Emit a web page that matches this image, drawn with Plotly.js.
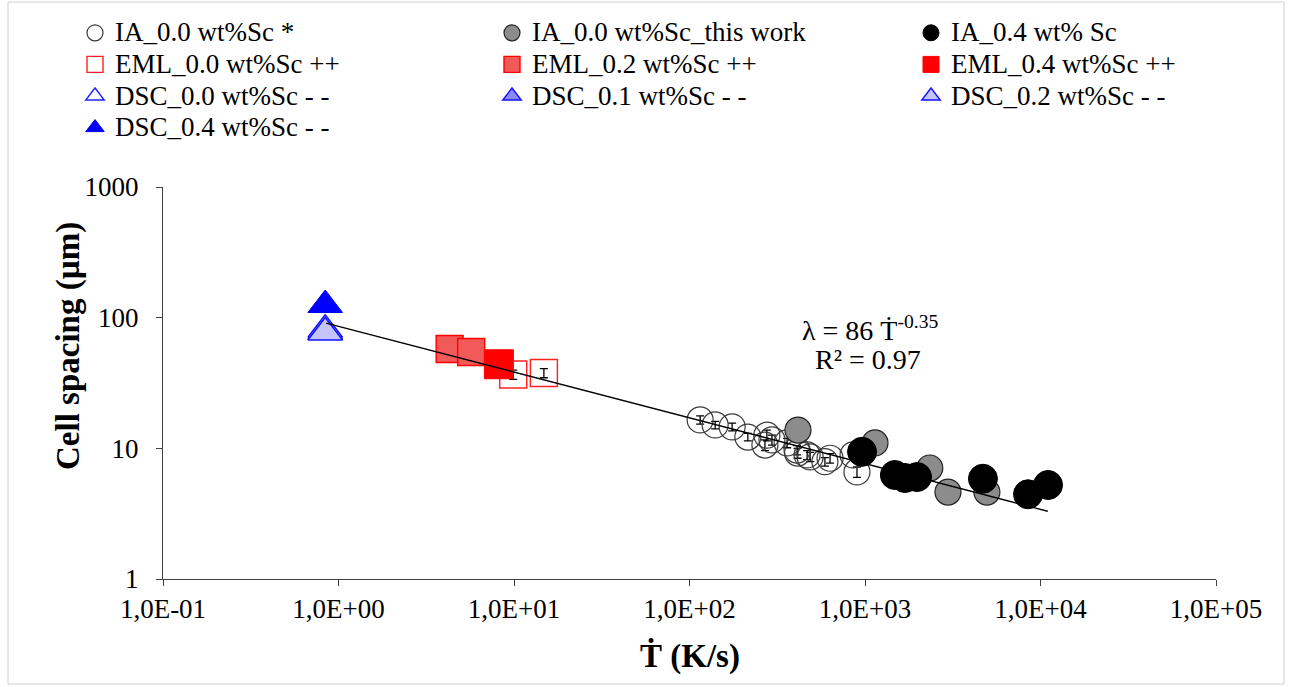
<!DOCTYPE html>
<html>
<head>
<meta charset="utf-8">
<script src="https://cdn.plot.ly/plotly-3.0.1.min.js"></script>
<style>html,body{margin:0;padding:0;background:#fff;}#chart{width:1292px;height:687px;}</style>
</head>
<body>
<div id="chart"></div>
<script>
// ---- data ----
const seriesNames = ["IA_0.0 wt%Sc *", "IA_0.0 wt%Sc_this work", "IA_0.4 wt% Sc",
  "EML_0.0 wt%Sc ++", "EML_0.2 wt%Sc ++", "EML_0.4 wt%Sc ++",
  "DSC_0.0 wt%Sc - -", "DSC_0.1 wt%Sc - -", "DSC_0.2 wt%Sc - -", "DSC_0.4 wt%Sc - -"];

const ia00X = [115, 140, 175, 215, 269, 276, 295, 360, 410, 413, 468, 487, 591, 632, 855, 900];
const ia00Y = [16.5, 15.1, 14.6, 12.2, 10.6, 12.6, 11.6, 11.0, 9.7, 9.2, 8.9, 8.6, 7.9, 8.4, 8.9, 6.6];
const ia00Err = [1.2, 1.0, 1.0, 0.8, 1.0, 1.2, 1.0, 0.9, 0.8, 0.8, 0.7, 0.7, 0.6, 0.7, 0.6, 0.6];

const iaTwX = [415, 1140, 2340, 2970, 4950];
const iaTwY = [13.8, 11.0, 7.07, 4.63, 4.63];

const ia04X = [962, 1480, 1690, 1980, 4700, 8490, 11040];
const ia04Y = [9.4, 6.25, 5.93, 6.03, 5.85, 4.45, 5.24];

const eml00X = [9.9, 14.8];
const eml00Y = [36.7, 37.7];
const eml00Err = [3, 3];
const eml02X = [4.3, 5.7];
const eml02Y = [57.5, 54.6];
const eml04X = [8.2];
const eml04Y = [44];

const dsc00X = [0.84], dsc00Y = [78];
const dsc01X = [0.84], dsc01Y = [81];
const dsc02X = [0.84], dsc02Y = [77];
const dsc04X = [0.84], dsc04Y = [125], dsc04Err = [14];

// power-law fit line end points (straight on log-log)
const fitX = [0.85, 11000];
const fitY = [91, 3.3];

const xTickVals = [0.1, 1, 10, 100, 1000, 10000, 100000];
const xTickText = ["1,0E-01", "1,0E+00", "1,0E+01", "1,0E+02", "1,0E+03", "1,0E+04", "1,0E+05"];
const yTickVals = [1, 10, 100, 1000];
const yTickText = ["1", "10", "100", "1000"];

const fitLine1 = 'λ = 86 Ṫ<sup>-0.35</sup>';
const fitLine2 = 'R² = 0.97';
const xTitle = '<b>Ṫ (K/s)</b>';
const yTitle = '<b>Cell spacing (µm)</b>';

// ---- traces ----
const serif = "Liberation Serif, serif";
const eb = (arr) => ({type: 'data', array: arr, visible: true, color: '#000', thickness: 1.3, width: 4});
const lg = (s) => '<span style="font-size:27px">' + s + '</span>';

const traces = [
  {x: ia00X, y: ia00Y, name: lg(seriesNames[0]), legend: 'legend', mode: 'markers', type: 'scatter',
   error_y: eb(ia00Err),
   marker: {symbol: 'circle-open', size: 26, color: '#3a3a3a', line: {width: 1.2}}},
  {x: iaTwX, y: iaTwY, name: lg(seriesNames[1]), legend: 'legend2', mode: 'markers', type: 'scatter',
   marker: {symbol: 'circle', size: 26, color: '#8c8c8c', line: {color: '#222', width: 1.2}}},
  {x: ia04X, y: ia04Y, name: lg(seriesNames[2]), legend: 'legend3', mode: 'markers', type: 'scatter',
   marker: {symbol: 'circle', size: 29, color: '#000', line: {color: '#000', width: 1}}},
  {x: eml00X, y: eml00Y, name: lg(seriesNames[3]), legend: 'legend', mode: 'markers', type: 'scatter',
   error_y: eb(eml00Err),
   marker: {symbol: 'square-open', size: 27, color: '#ff2020', line: {width: 1.4}}},
  {x: eml02X, y: eml02Y, name: lg(seriesNames[4]), legend: 'legend2', mode: 'markers', type: 'scatter',
   marker: {symbol: 'square', size: 27, color: '#f25a5a', line: {color: '#ff0000', width: 1.4}}},
  {x: eml04X, y: eml04Y, name: lg(seriesNames[5]), legend: 'legend3', mode: 'markers', type: 'scatter',
   marker: {symbol: 'square', size: 29, color: '#ff0000', line: {color: '#ff0000', width: 1}}},
  {x: dsc00X, y: dsc00Y, name: lg(seriesNames[6]), legend: 'legend', mode: 'markers', type: 'scatter',
   marker: {symbol: 'triangle-up-open', size: 30, color: '#2020ff', line: {width: 1.4}}},
  {x: dsc01X, y: dsc01Y, name: lg(seriesNames[7]), legend: 'legend2', mode: 'markers', type: 'scatter',
   marker: {symbol: 'triangle-up', size: 30, color: '#8a8aff', line: {color: '#1010ff', width: 1.4}}},
  {x: dsc02X, y: dsc02Y, name: lg(seriesNames[8]), legend: 'legend3', mode: 'markers', type: 'scatter',
   marker: {symbol: 'triangle-up', size: 30, color: '#c4c4ff', line: {color: '#1010ff', width: 1.4}}},
  {x: dsc04X, y: dsc04Y, name: lg(seriesNames[9]), legend: 'legend', mode: 'markers', type: 'scatter',
   error_y: eb(dsc04Err),
   marker: {symbol: 'triangle-up', size: 30, color: '#0000ff', line: {color: '#0000ff', width: 1}}},
  {x: fitX, y: fitY, mode: 'lines', type: 'scatter', showlegend: false, hoverinfo: 'skip',
   line: {color: '#000', width: 1.3}}
];

const legendBase = {orientation: 'v', yanchor: 'top', xanchor: 'left', xref: 'paper', yref: 'paper',
  font: {family: serif, size: 22, color: '#000'}, bgcolor: 'rgba(0,0,0,0)', borderwidth: 0,
  tracegroupgap: 0};

const L = 163, R = 76, T = 187, B = 108;
const pw = 1292 - L - R, ph = 687 - T - B;
const px2x = (p) => (p - L) / pw;
const py2y = (p) => (T + ph - p) / ph;

const layout = {
  width: 1292, height: 687,
  margin: {l: L, r: R, t: T, b: B, pad: 0},
  paper_bgcolor: '#fff', plot_bgcolor: '#fff',
  font: {family: serif, color: '#000'},
  showlegend: true,
  legend: Object.assign({}, legendBase, {x: px2x(75), y: py2y(12)}),
  legend2: Object.assign({}, legendBase, {x: px2x(492), y: py2y(12)}),
  legend3: Object.assign({}, legendBase, {x: px2x(911), y: py2y(12)}),
  xaxis: {
    type: 'log', range: [-1, 5], showgrid: false, zeroline: false,
    showline: true, linecolor: '#404040', linewidth: 1,
    ticks: 'outside', ticklen: 6, tickcolor: '#404040', tickwidth: 1,
    tickvals: xTickVals, ticktext: xTickText,
    tickfont: {family: serif, size: 27, color: '#000'}
  },
  yaxis: {
    type: 'log', range: [0, 3], showgrid: false, zeroline: false,
    showline: true, linecolor: '#404040', linewidth: 1,
    ticks: 'outside', ticklen: 6, tickcolor: '#404040', tickwidth: 1,
    tickvals: yTickVals, ticktext: yTickText, ticklabelstandoff: 12,
    tickfont: {family: serif, size: 27, color: '#000'}
  },
  annotations: [
    {xref: 'paper', yref: 'paper', x: px2x(870), y: py2y(328), xanchor: 'center', yanchor: 'middle',
     text: fitLine1, showarrow: false, font: {family: serif, size: 28, color: '#000'}},
    {xref: 'paper', yref: 'paper', x: px2x(868), y: py2y(359), xanchor: 'center', yanchor: 'middle',
     text: fitLine2, showarrow: false, font: {family: serif, size: 28, color: '#000'}},
    {xref: 'paper', yref: 'paper', x: px2x(690), y: py2y(656), xanchor: 'center', yanchor: 'middle',
     text: xTitle, showarrow: false, font: {family: serif, size: 33, color: '#000'}},
    {xref: 'paper', yref: 'paper', x: px2x(68), y: py2y(346), xanchor: 'center', yanchor: 'middle',
     text: yTitle, textangle: -90, showarrow: false, font: {family: serif, size: 33, color: '#000'}}
  ],
  shapes: [{
    type: 'rect', xref: 'paper', yref: 'paper',
    x0: px2x(8), x1: px2x(1284), y0: py2y(684), y1: py2y(2),
    line: {color: '#d0d0d0', width: 1}, fillcolor: 'rgba(0,0,0,0)', layer: 'below'
  }]
};

Plotly.newPlot('chart', traces, layout, {displayModeBar: false, staticPlot: true});
</script>
</body>
</html>
